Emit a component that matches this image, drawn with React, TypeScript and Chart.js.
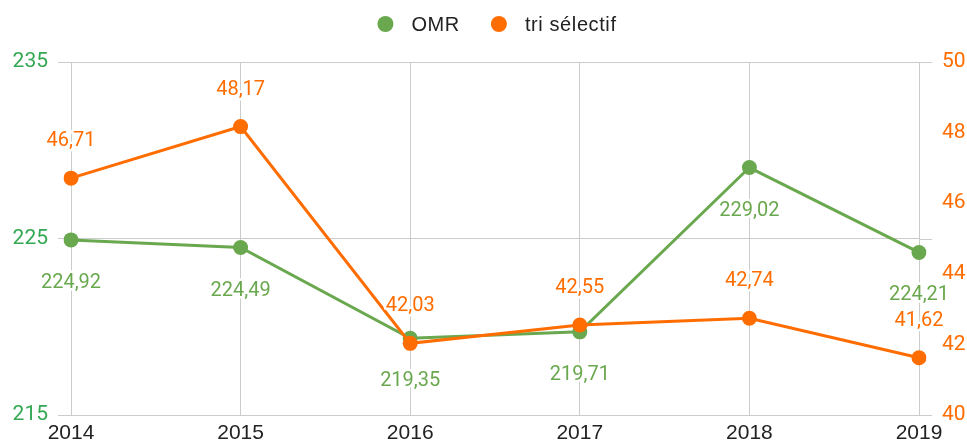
import React, { useEffect, useRef } from "react";
import { Chart, registerables } from "chart.js";

Chart.register(...registerables);

const years = ["2014", "2015", "2016", "2017", "2018", "2019"];
const omrValues = [224.92, 224.49, 219.35, 219.71, 229.02, 224.21];
const triValues = [46.71, 48.17, 42.03, 42.55, 42.74, 41.62];
const seriesNames = ["OMR", "tri sélectif"];
const leftTicks = [215, 225, 235];
const rightTicks = [40, 42, 44, 46, 48, 50];

const GREEN = "#6aa84f";
const GREEN_TICK = "#34a853";
const ORANGE = "#ff6d01";
const GRID = "#cccccc";
const TEXT = "#222222";

const fmt = (v: number) => v.toFixed(2).replace(".", ",");

const gridExtendPlugin = {
  id: "gridExtend",
  beforeDatasetsDraw(chart: any) {
    const { ctx, chartArea, scales } = chart;
    const y = scales.y;
    ctx.save();
    ctx.strokeStyle = GRID;
    ctx.lineWidth = 1;
    leftTicks.forEach((v) => {
      const py = Math.round(y.getPixelForValue(v)) + 0.5;
      ctx.beginPath();
      ctx.moveTo(chartArea.right, py);
      ctx.lineTo(chartArea.right + 13, py);
      ctx.stroke();
    });
    ctx.restore();
  },
};

const legendPlugin = {
  id: "customLegend",
  afterDraw(chart: any) {
    const { ctx, chartArea } = chart;
    const colors = [GREEN, ORANGE];
    ctx.save();
    ctx.font = '20px "Liberation Sans", Arial, sans-serif';
    (ctx as any).letterSpacing = "0.6px";
    const r = 8;
    const toText = 26;
    const between = 39;
    const widths = seriesNames.map((t) => ctx.measureText(t).width);
    let total = 0;
    widths.forEach((w, i) => {
      total += r + toText + w;
      if (i < widths.length - 1) total += between;
    });
    const cx = (chartArea.left + chartArea.right) / 2 + 6;
    let x = cx - total / 2;
    const yc = 24;
    seriesNames.forEach((t, i) => {
      const ccx = x + r;
      ctx.fillStyle = colors[i];
      ctx.beginPath();
      ctx.arc(ccx, yc, r, 0, Math.PI * 2);
      ctx.fill();
      ctx.fillStyle = TEXT;
      ctx.textBaseline = "middle";
      ctx.textAlign = "left";
      ctx.fillText(t, ccx + toText, yc + 1);
      x = ccx + toText + widths[i] + between - r;
    });
    ctx.restore();
  },
};

const dataLabelPlugin = {
  id: "dataLabels",
  afterDatasetsDraw(chart: any) {
    const { ctx } = chart;
    ctx.save();
    ctx.font = '20px Roboto, "Noto Sans", sans-serif';
    ctx.textAlign = "center";
    ctx.textBaseline = "alphabetic";
    ctx.lineJoin = "round";
    chart.data.datasets.forEach((ds: any, di: number) => {
      const meta = chart.getDatasetMeta(di);
      const below = di === 0;
      meta.data.forEach((pt: any, i: number) => {
        const v = ds.data[i];
        const text = fmt(v);
        const centerY = below ? pt.y + 41 : pt.y - 39;
        const by = centerY + 7;
        ctx.strokeStyle = "#ffffff";
        ctx.lineWidth = 5;
        ctx.strokeText(text, pt.x, by);
        ctx.fillStyle = below ? GREEN : ORANGE;
        ctx.fillText(text, pt.x, by);
      });
    });
    ctx.restore();
  },
};

export default function App() {
  const canvasRef = useRef<HTMLCanvasElement | null>(null);

  useEffect(() => {
    if (!canvasRef.current) return;
    const chart = new Chart(canvasRef.current, {
      type: "line",
      data: {
        labels: years,
        datasets: [
          {
            label: seriesNames[0],
            data: omrValues,
            borderColor: GREEN,
            backgroundColor: GREEN,
            borderWidth: 3,
            pointRadius: 7.5,
            pointBorderWidth: 0,
            pointBackgroundColor: GREEN,
            yAxisID: "y",
            order: 1,
            tension: 0,
          },
          {
            label: seriesNames[1],
            data: triValues,
            borderColor: ORANGE,
            backgroundColor: ORANGE,
            borderWidth: 3,
            pointRadius: 7.5,
            pointBorderWidth: 0,
            pointBackgroundColor: ORANGE,
            yAxisID: "y1",
            order: 0,
            tension: 0,
          },
        ],
      },
      options: {
        responsive: false,
        animation: false,
        layout: { padding: { top: 62, left: 0, right: 0, bottom: 0 } },
        plugins: {
          legend: { display: false },
          tooltip: { enabled: false },
        },
        scales: {
          x: {
            type: "category",
            grid: { color: GRID, drawTicks: false, lineWidth: 1 },
            border: { display: false },
            ticks: {
              color: TEXT,
              font: { family: '"Liberation Sans", Arial, sans-serif', size: 21 },
              padding: 6,
              maxRotation: 0,
              autoSkip: false,
            },
            afterFit: (s: any) => {
              s.height = 28;
              s.paddingLeft = 0;
              s.paddingRight = 0;
            },
          },
          y: {
            position: "left",
            min: 215,
            max: 235,
            afterBuildTicks: (s: any) => {
              s.ticks = leftTicks.map((v) => ({ value: v }));
            },
            grid: { color: GRID, drawTicks: true, tickLength: 13, lineWidth: 1 },
            border: { display: false },
            ticks: {
              color: GREEN_TICK,
              font: { family: 'Roboto, "Noto Sans", sans-serif', size: 21 },
              padding: 10,
            },
            afterFit: (s: any) => {
              s.width = 71;
              s.paddingTop = 0;
              s.paddingBottom = 0;
            },
          },
          y1: {
            position: "right",
            min: 40,
            max: 50,
            afterBuildTicks: (s: any) => {
              s.ticks = rightTicks.map((v) => ({ value: v }));
            },
            grid: { display: false, drawTicks: false },
            border: { display: false },
            ticks: {
              color: ORANGE,
              font: { family: 'Roboto, "Noto Sans", sans-serif', size: 21 },
              padding: 23,
            },
            afterFit: (s: any) => {
              s.width = 48;
              s.paddingTop = 0;
              s.paddingBottom = 0;
            },
          },
        },
      } as any,
      plugins: [gridExtendPlugin, legendPlugin, dataLabelPlugin],
    });
    return () => chart.destroy();
  }, []);

  return (
    <div style={{ position: "absolute", left: 0, top: 0, width: 967, height: 443, background: "#fff" }}>
      <canvas ref={canvasRef} width={967} height={443} style={{ display: "block" }} />
    </div>
  );
}
